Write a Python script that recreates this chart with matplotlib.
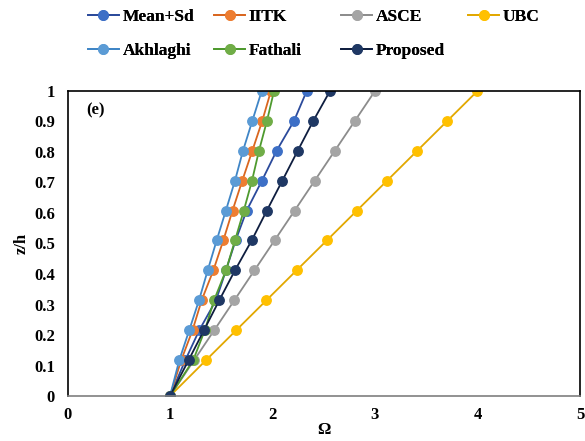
import matplotlib
matplotlib.use("Agg")
import matplotlib.pyplot as plt

# storey levels (z/h)
z = [0, 0.118, 0.216, 0.314, 0.412, 0.51, 0.608, 0.706, 0.804, 0.902, 1.0]

mean_sd = [1, 1.15, 1.286, 1.449, 1.546, 1.64, 1.748, 1.897, 2.04, 2.21, 2.334]
iitk = [1, 1.11, 1.22, 1.309, 1.423, 1.52, 1.61, 1.705, 1.803, 1.90, 1.985]
asce = [1, 1.236, 1.432, 1.628, 1.824, 2.02, 2.216, 2.412, 2.608, 2.804, 3.0]
ubc = [1, 1.353, 1.647, 1.941, 2.235, 2.53, 2.824, 3.118, 3.412, 3.706, 4.0]
akhlaghi = [1, 1.091, 1.188, 1.283, 1.368, 1.455, 1.545, 1.634, 1.712, 1.803, 1.895]
fathali = [1, 1.227, 1.34, 1.43, 1.546, 1.634, 1.72, 1.80, 1.868, 1.946, 2.015]
proposed = [1, 1.182, 1.332, 1.481, 1.634, 1.797, 1.945, 2.096, 2.246, 2.398, 2.561]

x_ticks = [0, 1, 2, 3, 4, 5]
y_ticks = [0, 0.1, 0.2, 0.3, 0.4, 0.5, 0.6, 0.7, 0.8, 0.9, 1]
y_labels = ["0", "0.1", "0.2", "0.3", "0.4", "0.5", "0.6", "0.7", "0.8", "0.9", "1"]

# name, values, line colour, marker colour
series = [
    ("Mean+Sd", mean_sd, "#2B4A9B", "#3D6FC6"),
    ("IITK", iitk, "#D9661F", "#ED7D31"),
    ("ASCE", asce, "#8C8C8C", "#A5A5A5"),
    ("UBC", ubc, "#E2A800", "#FFC000"),
    ("Akhlaghi", akhlaghi, "#3F85C6", "#5B9BD5"),
    ("Fathali", fathali, "#4E9A2E", "#70AD47"),
    ("Proposed", proposed, "#0E1D3F", "#1F3864"),
]

plt.rcParams["font.family"] = "Liberation Serif"
plt.rcParams["font.weight"] = "bold"

fig = plt.figure(figsize=(5.85, 4.41), dpi=100)
ax = fig.add_axes([0.1154, 0.102, 0.876, 0.6917])

handles = {}
for name, vals, lc, mc in series:
    ln, = ax.plot(vals, z, color=lc, lw=1.3, marker="o", markersize=6.8,
                  markerfacecolor=mc, markeredgecolor=mc, label=name)
    handles[name] = ln

ax.set_xlim(0, 5)
ax.set_ylim(0, 1)
ax.set_xticks(x_ticks)
ax.set_yticks(y_ticks)
ax.set_yticklabels(y_labels)
ax.tick_params(length=0, labelsize=12)
ax.tick_params(axis="y", pad=9)
ax.tick_params(axis="x", pad=8)
for s in ["top", "left", "right"]:
    ax.spines[s].set_color("black")
    ax.spines[s].set_linewidth(1.2)
ax.spines["bottom"].set_color("#7F7F7F")
ax.spines["bottom"].set_linewidth(1.2)

ax.set_xlabel("Ω", fontsize=12, fontweight="bold", labelpad=-1)
ax.set_ylabel("z/h", fontsize=12, fontweight="bold", labelpad=3)
ax.text(0.18, 0.935, "(e)", fontsize=12, fontweight="bold", va="center")

# legend laid out as four evenly spaced columns
columns = [["Mean+Sd", "Akhlaghi"], ["IITK", "Fathali"], ["ASCE", "Proposed"], ["UBC"]]
col_x = [0.132, 0.348, 0.565, 0.782]
for names, x0 in zip(columns, col_x):
    leg = fig.legend([handles[n] for n in names], names, loc="upper left",
                     bbox_to_anchor=(x0, 1.003), frameon=False, fontsize=12.5,
                     handlelength=1.8, handletextpad=0.2, labelspacing=1.0,
                     borderaxespad=0.2)
    fig.add_artist(leg)

fig.savefig("out.png", dpi=100)
